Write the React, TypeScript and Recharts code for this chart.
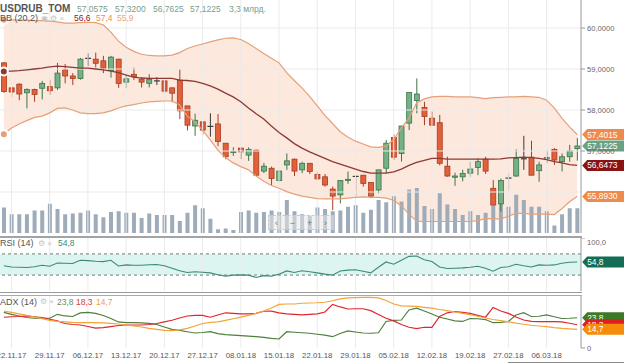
import React from "react";
import {
  ComposedChart,
  Bar,
  Line,
  Area,
  XAxis,
  YAxis,
  ReferenceLine,
  ReferenceArea,
  ReferenceDot,
} from "recharts";

const FONT = "'Liberation Sans', Arial, sans-serif";
const W = 624;
const AXIS_W = 43;

// trading days (MOEX, USDRUB_TOM)
const dates = [
  "21.11.17", "22.11.17", "23.11.17", "24.11.17", "27.11.17", "28.11.17", "29.11.17", "30.11.17", "01.12.17", "04.12.17",
  "05.12.17", "06.12.17", "07.12.17", "08.12.17", "11.12.17", "12.12.17", "13.12.17", "14.12.17", "15.12.17", "18.12.17",
  "19.12.17", "20.12.17", "21.12.17", "22.12.17", "25.12.17", "26.12.17", "27.12.17", "28.12.17", "29.12.17", "03.01.18",
  "04.01.18", "08.01.18", "09.01.18", "10.01.18", "11.01.18", "12.01.18", "15.01.18", "16.01.18", "17.01.18", "18.01.18",
  "19.01.18", "22.01.18", "23.01.18", "24.01.18", "25.01.18", "26.01.18", "29.01.18", "30.01.18", "31.01.18", "01.02.18",
  "02.02.18", "05.02.18", "06.02.18", "07.02.18", "08.02.18", "09.02.18", "12.02.18", "13.02.18", "14.02.18", "15.02.18",
  "16.02.18", "19.02.18", "20.02.18", "21.02.18", "22.02.18", "26.02.18", "27.02.18", "28.02.18", "01.03.18", "02.03.18",
  "05.03.18", "06.03.18", "07.03.18", "09.03.18", "12.03.18", "13.03.18",
];

const tickDates = [
  "22.11.17", "29.11.17", "06.12.17", "13.12.17", "20.12.17", "27.12.17", "08.01.18", "15.01.18",
  "22.01.18", "29.01.18", "05.02.18", "12.02.18", "19.02.18", "27.02.18", "06.03.18",
];

const openP = [
  59.15, 58.54, 58.63, 58.42, 58.5, 58.53, 58.57, 58.54, 58.98, 58.83,
  58.77, 59.27, 59.24, 59.2, 58.96, 59.24, 58.68, 58.87, 58.75, 58.65,
  58.72, 58.71, 58.54, 58.73, 58.1, 57.61, 57.71, 57.61, 57.66, 57.19,
  56.96, 57.07, 56.9, 57.02, 56.51, 56.58, 56.28, 56.66, 56.8, 56.54,
  56.7, 56.43, 56.37, 56.07, 55.93, 56.28, 56.37, 56.41, 56.23, 56.05,
  56.58, 57.33, 56.94, 57.68, 58.23, 58.06, 57.8, 57.69, 56.63, 56.36,
  56.37, 56.46, 56.6, 56.8, 56.09, 55.71, 56.33, 56.39, 56.8, 56.85,
  56.52, 56.82, 57.04, 56.74, 56.86, 57.0575,
];
const highP = [
  59.17, 58.55, 58.65, 58.53, 58.52, 58.71, 58.73, 59.15, 59.12, 58.9,
  59.27, 59.38, 59.4, 59.32, 59.32, 59.25, 58.88, 59.03, 58.8, 58.87,
  58.8, 58.71, 58.55, 58.99, 58.1, 57.91, 57.72, 57.92, 57.9, 57.19,
  57.09, 57.08, 57.09, 57.03, 56.71, 56.62, 56.52, 56.94, 56.82, 56.74,
  56.71, 56.49, 56.44, 56.13, 56.28, 56.5, 56.42, 56.41, 56.23, 56.54,
  57.27, 57.41, 57.61, 58.43, 58.77, 58.2, 57.96, 57.88, 56.86, 56.47,
  56.54, 56.74, 56.82, 56.86, 56.29, 56.33, 56.46, 57.04, 57.37, 57.25,
  56.74, 57.02, 57.07, 56.94, 57.15, 57.32,
];
const lowP = [
  58.42, 58.32, 58.24, 58.04, 58.2, 58.26, 58.37, 58.49, 58.65, 58.61,
  58.74, 59.07, 59.04, 58.9, 58.79, 58.54, 58.53, 58.73, 58.55, 58.55,
  58.61, 58.41, 58.19, 57.78, 57.5, 57.37, 57.39, 57.35, 57.12, 56.8,
  56.88, 56.8, 56.76, 56.39, 56.46, 56.17, 56.26, 56.54, 56.39, 56.46,
  56.44, 56.29, 56.13, 55.56, 55.72, 56.2, 55.89, 56.13, 55.88, 55.97,
  56.46, 56.78, 56.74, 57.51, 57.92, 57.63, 57.63, 56.65, 56.37, 56.15,
  56.26, 56.37, 56.41, 56.44, 55.67, 55.52, 56.03, 56.37, 56.54, 56.41,
  56.25, 56.7, 56.66, 56.5, 56.74, 56.7625,
];
const closeP = [
  58.45, 58.44, 58.39, 58.5, 58.38, 58.65, 58.47, 58.9, 58.83, 58.77,
  59.24, 59.26, 59.14, 59.02, 59.29, 58.65, 58.76, 58.81, 58.68, 58.75,
  58.71, 58.46, 58.41, 57.98, 57.63, 57.75, 57.51, 57.6, 57.23, 56.86,
  56.99, 56.98, 57.04, 56.41, 56.63, 56.33, 56.51, 56.76, 56.51, 56.7,
  56.5, 56.32, 56.17, 55.9, 56.28, 56.31, 56.38, 56.21, 55.9, 56.54,
  57.19, 56.85, 57.61, 58.43, 58.39, 57.84, 57.63, 56.7, 56.39, 56.39,
  56.45, 56.56, 56.74, 56.51, 55.68, 56.28, 56.34, 56.82, 56.81, 56.41,
  56.66, 56.83, 56.78, 56.86, 57.0, 57.1225,
];

// volume, bn RUB
const volume = [
  3.4, 2.5, 2.5, 2.5, 3.0, 3.0, 3.9, 3.2, 2.5, 2.6,
  2.7, 3.0, 2.5, 2.1, 2.8, 2.9, 2.7, 2.7, 2.0, 2.6,
  2.4, 2.4, 2.4, 1.6, 2.7, 3.7, 3.3, 1.9, 0.5, 0.6,
  0.4, 2.8, 3.0, 2.7, 2.8, 3.0, 2.8, 4.4, 2.9, 2.5,
  2.3, 3.4, 3.2, 2.9, 3.0, 3.5, 3.7, 2.7, 3.1, 4.4,
  4.1, 4.9, 4.2, 5.8, 6.0, 3.6, 3.2, 5.3, 3.8, 3.2,
  2.4, 2.9, 2.4, 2.7, 3.6, 4.4, 3.5, 5.1, 4.4, 3.5,
  3.5, 2.9, 1.0, 2.5, 3.3, 3.3,
];

// Bollinger (20,2)
const bbUpper = [
  60.2, 60.2, 60.19, 60.19, 60.18, 60.18, 60.17, 60.15, 60.12, 60.12,
  60.13, 60.14, 60.13, 60.08, 59.9, 59.68, 59.53, 59.43, 59.36, 59.33,
  59.32, 59.32, 59.34, 59.4, 59.5, 59.56, 59.61, 59.66, 59.71, 59.75,
  59.76, 59.72, 59.62, 59.5, 59.38, 59.26, 59.15, 58.91, 58.72, 58.54,
  58.33, 58.1, 57.87, 57.67, 57.47, 57.34, 57.24, 57.17, 57.1, 57.09,
  57.12, 57.28, 57.56, 57.8, 58.17, 58.27, 58.32, 58.33, 58.33, 58.32,
  58.32, 58.32, 58.3, 58.28, 58.3, 58.31, 58.32, 58.32, 58.33, 58.32,
  58.31, 58.24, 58.05, 57.8, 57.59, 57.4015,
];
const bbMid = [
  58.94, 58.95, 58.96, 58.98, 59.0, 59.02, 59.05, 59.07, 59.06, 59.04,
  59.02, 59.02, 59.0, 58.98, 58.95, 58.91, 58.85, 58.8, 58.78, 58.77,
  58.77, 58.77, 58.77, 58.73, 58.72, 58.7, 58.65, 58.59, 58.51, 58.41,
  58.32, 58.2, 58.05, 57.91, 57.78, 57.61, 57.45, 57.32, 57.18, 57.07,
  56.98, 56.9, 56.82, 56.74, 56.68, 56.62, 56.56, 56.5, 56.46, 56.46,
  56.46, 56.49, 56.56, 56.65, 56.72, 56.77, 56.82, 56.82, 56.8, 56.8,
  56.8, 56.8, 56.8, 56.8, 56.8, 56.81, 56.83, 56.84, 56.85, 56.84,
  56.82, 56.79, 56.74, 56.71, 56.67, 56.6473,
];
const bbLower = [
  57.41, 57.56, 57.66, 57.74, 57.82, 57.85, 57.93, 58.04, 58.05, 58.0,
  57.93, 57.91, 57.91, 57.93, 57.98, 58.05, 58.1, 58.13, 58.17, 58.2,
  58.21, 58.22, 58.22, 58.12, 57.85, 57.71, 57.51, 57.27, 57.02, 56.84,
  56.71, 56.62, 56.54, 56.39, 56.26, 56.16, 56.09, 56.01, 55.95, 55.9,
  55.87, 55.84, 55.83, 55.83, 55.83, 55.85, 55.87, 55.88, 55.87, 55.87,
  55.85, 55.8, 55.66, 55.46, 55.29, 55.28, 55.28, 55.28, 55.28, 55.28,
  55.28, 55.28, 55.3, 55.35, 55.35, 55.34, 55.41, 55.48, 55.48, 55.46,
  55.46, 55.46, 55.45, 55.59, 55.76, 55.893,
];

// RSI (14)
const rsi14 = [
  47.7, 45.4, 44.9, 44.3, 45.8, 48.6, 46.7, 52.9, 52.3, 51.8,
  57.9, 57.4, 56.1, 55.5, 57.9, 47.3, 49.2, 48.6, 48.6, 49.5,
  49.9, 47.7, 43.0, 38.3, 35.0, 36.4, 35.5, 34.2, 30.8, 28.0,
  29.9, 30.5, 29.9, 25.6, 29.0, 28.0, 31.8, 37.9, 35.0, 38.3,
  36.4, 34.2, 31.8, 29.9, 37.9, 39.3, 40.2, 37.4, 34.2, 44.9,
  54.8, 50.5, 57.9, 65.4, 66.0, 58.9, 55.5, 45.4, 42.4, 43.0,
  43.6, 44.9, 46.7, 43.0, 37.4, 44.3, 45.8, 50.5, 47.7, 45.4,
  49.2, 48.6, 49.2, 52.3, 54.2, 54.8,
];

// ADX (14): +DI, -DI, ADX
const diPlus = [
  28.0, 26.4, 25.2, 24.0, 23.4, 23.4, 23.4, 26.5, 25.2, 24.8,
  27.6, 28.0, 27.2, 25.6, 23.2, 20.5, 19.9, 19.9, 19.7, 19.4,
  18.5, 16.5, 14.7, 13.8, 12.8, 11.8, 12.2, 12.8, 11.3, 10.6,
  10.2, 9.7, 9.3, 8.9, 8.4, 7.6, 7.1, 12.8, 12.4, 12.0,
  11.6, 10.8, 10.1, 8.9, 11.4, 13.5, 12.6, 11.8, 11.6, 12.0,
  20.9, 21.7, 22.0, 29.9, 31.3, 29.1, 26.8, 24.2, 22.8, 21.3,
  20.9, 23.2, 23.0, 22.4, 19.9, 20.2, 20.9, 26.0, 27.8, 24.8,
  25.0, 26.0, 24.6, 23.2, 23.4, 23.8,
];
const diMinus = [
  24.2, 24.6, 24.8, 25.2, 24.6, 24.0, 22.6, 21.3, 19.3, 18.5,
  18.1, 16.9, 15.7, 16.0, 16.8, 17.7, 18.1, 18.1, 18.1, 18.5,
  19.3, 20.5, 21.8, 23.6, 25.2, 25.7, 25.6, 24.2, 26.0, 27.7,
  27.2, 26.8, 26.8, 27.2, 28.9, 29.0, 27.6, 26.9, 26.5, 26.0,
  26.4, 26.8, 28.3, 34.3, 32.3, 30.7, 30.9, 30.9, 29.4, 26.4,
  23.4, 21.3, 18.5, 16.3, 15.2, 16.3, 16.3, 24.8, 27.7, 28.7,
  28.0, 27.2, 25.7, 24.2, 31.9, 29.1, 27.2, 24.4, 22.0, 20.9,
  20.7, 20.7, 20.7, 20.5, 19.5, 18.3,
];
const adx14 = [
  29.1, 28.0, 26.8, 25.6, 24.4, 23.1, 21.8, 20.9, 20.5, 20.1,
  19.9, 19.9, 19.9, 19.7, 19.3, 18.9, 18.1, 17.3, 16.5, 15.4,
  14.6, 13.8, 13.6, 14.2, 15.5, 17.3, 19.3, 20.1, 20.5, 21.7,
  23.0, 24.3, 25.7, 27.3, 29.1, 31.5, 34.3, 34.6, 34.6, 35.2,
  35.4, 35.6, 36.0, 37.2, 38.6, 39.4, 39.6, 39.8, 39.9, 39.4,
  37.4, 34.6, 33.1, 32.9, 32.7, 32.0, 31.3, 30.3, 29.4, 28.3,
  27.3, 26.2, 25.0, 23.6, 22.4, 21.5, 20.5, 19.5, 18.7, 17.9,
  17.3, 16.8, 16.0, 15.4, 15.0, 14.7,
];

const priceTicks = [57, 58, 59, 60];
const priceGrid = [56, 57, 58, 59, 60];

const data = dates.map((d, i) => ({
  d,
  open: openP[i],
  high: highP[i],
  low: lowP[i],
  close: closeP[i],
  vol: volume[i],
  bbU: bbUpper[i],
  bbM: bbMid[i],
  bbL: bbLower[i],
  rsi: rsi14[i],
  pdi: diPlus[i],
  mdi: diMinus[i],
  adx: adx14[i],
}));

const last = dates.length - 1;
const fmt = (v: number, n: number) => v.toFixed(n).replace(".", ",");

const Candle = (props: any) => {
  const { x, y, width, height, payload } = props;
  if (!payload || height == null) return null;
  const top = Math.min(y, y + height);
  const h = Math.abs(height);
  const span = payload.high - payload.low || 1;
  const toY = (v: number) => top + ((payload.high - v) / span) * h;
  const cx = x + width / 2;
  const up = payload.close >= payload.open;
  const doji = Math.abs(payload.close - payload.open) < 0.015;
  const stroke = doji ? "#3a3a3a" : up ? "#3b744a" : "#a53c22";
  const fill = up ? "#74b184" : "#e2603a";
  const yo = toY(payload.open);
  const yc = toY(payload.close);
  const bt = Math.min(yo, yc);
  const bh = Math.max(Math.abs(yo - yc), 1);
  return (
    <g>
      <line x1={cx} x2={cx} y1={top} y2={top + h} stroke={stroke} strokeWidth={1} />
      {doji ? (
        <line x1={x} x2={x + width} y1={yc} y2={yc} stroke={stroke} strokeWidth={1.2} />
      ) : (
        <rect x={x + 0.5} y={bt} width={width - 1} height={bh} fill={fill} stroke={stroke} strokeWidth={0.8} />
      )}
    </g>
  );
};

// value tag on the right axis
const Badge = ({ cx, cy, color, text }: any) => {
  if (cx == null || cy == null) return null;
  const x0 = cx + 5;
  return (
    <g>
      <path
        d={`M${x0},${cy} L${x0 + 5},${cy - 5.5} L${W},${cy - 5.5} L${W},${cy + 5.5} L${x0 + 5},${cy + 5.5} Z`}
        fill={color}
      />
      <text x={x0 + 5} y={cy + 3} fontSize={8.4} fill="#fff" fontFamily={FONT}>
        {text}
      </text>
    </g>
  );
};

const Txt = ({ x, y, size = 9, color = "#555", bold = false, children }: any) => (
  <div
    style={{
      position: "absolute",
      left: x,
      top: y - size / 2,
      fontSize: size,
      lineHeight: `${size}px`,
      color,
      fontWeight: bold ? "bold" : "normal",
      whiteSpace: "nowrap",
    }}
  >
    {children}
  </div>
);

const gridStroke = "#ebebeb";

export default function App() {
  return (
    <div
      style={{
        position: "absolute",
        left: 0,
        top: 0,
        width: W,
        height: 364,
        background: "#fff",
        fontFamily: FONT,
        overflow: "hidden",
      }}
    >
      {/* price + volume */}
      <div style={{ position: "absolute", left: 0, top: 0 }}>
        <ComposedChart width={W} height={233} data={data} margin={{ top: 0, right: 0, bottom: 0, left: 0 }}>
          <XAxis xAxisId="p" dataKey="d" scale="band" hide />
          <XAxis xAxisId="v" dataKey="d" scale="band" hide />
          <YAxis
            yAxisId="p"
            orientation="right"
            width={AXIS_W}
            domain={[55, 60.683]}
            allowDataOverflow
            ticks={priceTicks}
            tickFormatter={(v: number) => fmt(v, 4)}
            tick={{ fontSize: 7.6, fill: "#666", fontFamily: FONT }}
            tickSize={4}
            tickMargin={2}
            axisLine={{ stroke: "#9a9a9a" }}
            tickLine={{ stroke: "#9a9a9a" }}
          />
          <YAxis yAxisId="v" hide domain={[0, 31.07]} />
          {priceGrid.map((v) => (
            <ReferenceLine key={"h" + v} xAxisId="p" yAxisId="p" y={v} stroke={gridStroke} />
          ))}
          {tickDates.map((t) => (
            <ReferenceLine key={"v" + t} xAxisId="p" yAxisId="p" x={t} stroke={gridStroke} />
          ))}
          <Area
            xAxisId="p"
            yAxisId="p"
            dataKey={(r: any) => [r.bbL, r.bbU]}
            stroke="none"
            fill="#f8cdb4"
            fillOpacity={0.45}
            isAnimationActive={false}
          />
          <Bar xAxisId="v" yAxisId="v" dataKey="vol" barSize={4} fill="#9eabb8" isAnimationActive={false} />
          <Line xAxisId="p" yAxisId="p" dataKey="bbU" stroke="#e5a07a" strokeWidth={1.2} dot={false} isAnimationActive={false} />
          <Line xAxisId="p" yAxisId="p" dataKey="bbL" stroke="#e5a07a" strokeWidth={1.2} dot={false} isAnimationActive={false} />
          <Line xAxisId="p" yAxisId="p" dataKey="bbM" stroke="#8c3a33" strokeWidth={1.3} dot={false} isAnimationActive={false} />
          <Bar
            xAxisId="p"
            yAxisId="p"
            dataKey={(r: any) => [r.low, r.high]}
            barSize={6}
            shape={<Candle />}
            isAnimationActive={false}
          />
          <ReferenceDot xAxisId="p" yAxisId="p" x={dates[last]} y={bbUpper[last]} r={0}
            shape={(p: any) => <Badge cx={p.cx} cy={p.cy} color="#ee8a4c" text={fmt(bbUpper[last], 4)} />} />
          <ReferenceDot xAxisId="p" yAxisId="p" x={dates[last]} y={closeP[last]} r={0}
            shape={(p: any) => <Badge cx={p.cx} cy={p.cy} color="#6aa182" text={fmt(closeP[last], 4)} />} />
          <ReferenceDot xAxisId="p" yAxisId="p" x={dates[last]} y={bbMid[last]} r={0}
            shape={(p: any) => <Badge cx={p.cx} cy={p.cy} color="#8a1212" text={fmt(bbMid[last], 4)} />} />
          <ReferenceDot xAxisId="p" yAxisId="p" x={dates[last]} y={bbLower[last]} r={0}
            shape={(p: any) => <Badge cx={p.cx} cy={p.cy} color="#ee8a4c" text={fmt(bbLower[last], 4)} />} />
        </ComposedChart>
      </div>

      {/* RSI */}
      <div style={{ position: "absolute", left: 0, top: 238 }}>
        <ComposedChart width={W} height={53} data={data} margin={{ top: 0, right: 0, bottom: 0, left: 0 }}>
          <XAxis dataKey="d" scale="band" hide />
          <YAxis
            orientation="right"
            width={AXIS_W}
            domain={[0, 100]}
            ticks={[0, 100]}
            tickFormatter={(v: number) => (v === 100 ? "100,0" : "0")}
            tick={{ fontSize: 7.6, fill: "#666", fontFamily: FONT }}
            tickSize={4}
            tickMargin={2}
            axisLine={{ stroke: "#9a9a9a" }}
            tickLine={{ stroke: "#9a9a9a" }}
          />
          {tickDates.map((t) => (
            <ReferenceLine key={"r" + t} x={t} stroke={gridStroke} />
          ))}
          <ReferenceArea y1={30} y2={70} fill="#dcf5f1" fillOpacity={1} stroke="none" />
          <ReferenceLine y={70} stroke="#777" strokeDasharray="3 3" />
          <ReferenceLine y={30} stroke="#777" strokeDasharray="3 3" />
          <Line dataKey="rsi" stroke="#3e8a74" strokeWidth={1.1} dot={false} isAnimationActive={false} />
          <ReferenceDot x={dates[last]} y={rsi14[last]} r={0}
            shape={(p: any) => <Badge cx={p.cx} cy={p.cy} color="#146e56" text={fmt(rsi14[last], 1)} />} />
        </ComposedChart>
      </div>

      {/* ADX */}
      <div style={{ position: "absolute", left: 0, top: 295 }}>
        <ComposedChart width={W} height={69} data={data} margin={{ top: 0, right: 0, bottom: 0, left: 0 }}>
          <XAxis
            dataKey="d"
            scale="band"
            ticks={tickDates}
            interval={0}
            height={16}
            axisLine={false}
            tickLine={false}
            tickSize={0}
            tickMargin={4}
            tick={{ fontSize: 7.8, fill: "#555", fontFamily: FONT }}
          />
          <YAxis
            orientation="right"
            width={AXIS_W}
            domain={[0, 41.7]}
            ticks={[0]}
            tickFormatter={() => "0"}
            tick={{ fontSize: 7.6, fill: "#666", fontFamily: FONT }}
            tickSize={4}
            tickMargin={2}
            axisLine={{ stroke: "#9a9a9a" }}
            tickLine={{ stroke: "#9a9a9a" }}
          />
          {tickDates.map((t) => (
            <ReferenceLine key={"a" + t} x={t} stroke={gridStroke} />
          ))}
          <Line dataKey="pdi" stroke="#4f7f3c" strokeWidth={1.2} dot={false} isAnimationActive={false} />
          <Line dataKey="mdi" stroke="#e0262e" strokeWidth={1.2} dot={false} isAnimationActive={false} />
          <Line dataKey="adx" stroke="#f2a43a" strokeWidth={1.2} dot={false} isAnimationActive={false} />
          <ReferenceDot x={dates[last]} y={diPlus[last]} r={0}
            shape={(p: any) => <Badge cx={p.cx} cy={p.cy} color="#3d7a26" text={fmt(diPlus[last], 1)} />} />
          <ReferenceDot x={dates[last]} y={diMinus[last]} r={0}
            shape={(p: any) => <Badge cx={p.cx} cy={p.cy} color="#e01e1e" text={fmt(diMinus[last], 1)} />} />
          <ReferenceDot x={dates[last]} y={adx14[last]} r={0}
            shape={(p: any) => <Badge cx={p.cx} cy={p.cy} color="#f58c0a" text={fmt(adx14[last], 1)} />} />
        </ComposedChart>
      </div>

      {/* panel separators */}
      <div style={{ position: "absolute", left: 0, top: 236, width: 582, height: 2, background: "#a3a3a3" }} />
      <div style={{ position: "absolute", left: 0, top: 292, width: 582, height: 1, background: "#999" }} />
      <div style={{ position: "absolute", left: 0, top: 295, width: 582, height: 1, background: "#aaa" }} />
      <div style={{ position: "absolute", left: 508, top: 362, width: 116, height: 1, background: "#8a8a8a" }} />

      {/* zoom navigator */}
      <div
        style={{
          position: "absolute",
          left: 268,
          top: 215,
          width: 64,
          height: 13,
          border: "1px dashed #c9c9c9",
          background: "rgba(232,232,232,0.55)",
          display: "flex",
          justifyContent: "space-around",
          alignItems: "center",
          fontSize: 9,
          color: "#777",
        }}
      >
        <span>‹</span>
        <span>−</span>
        <span>+</span>
        <span>›</span>
      </div>

      {/* legends */}
      <Txt x={0} y={9} size={10} bold color="#555">USDRUB_TOM</Txt>
      <Txt x={77} y={9} size={8.5} color="#76a08d">{fmt(openP[last], 4)}</Txt>
      <Txt x={115} y={9} size={8.5} color="#76a08d">{fmt(highP[last], 4)}</Txt>
      <Txt x={153} y={9} size={8.5} color="#76a08d">{fmt(lowP[last], 4)}</Txt>
      <Txt x={190} y={9} size={8.5} color="#76a08d">{fmt(closeP[last], 4)}</Txt>
      <Txt x={229} y={9} size={8.5} color="#76a08d">{fmt(volume[last], 1)} млрд.</Txt>

      <Txt x={0} y={18.5} size={9} color="#555">BB (20,2)</Txt>
      <Txt x={41} y={18.5} size={8} color="#c4c4c4">◉ ⚙ ×</Txt>
      <Txt x={74} y={18.5} size={8.5} color="#8b1a1a">{fmt(bbMid[last], 1)}</Txt>
      <Txt x={96} y={18.5} size={8.5} color="#e8914c">{fmt(bbUpper[last], 1)}</Txt>
      <Txt x={117} y={18.5} size={8.5} color="#eaa57a">{fmt(bbLower[last], 1)}</Txt>

      <Txt x={0} y={243.5} size={9} color="#555">RSI (14)</Txt>
      <Txt x={38} y={243.5} size={8} color="#c4c4c4">⚙ ×</Txt>
      <Txt x={58} y={243.5} size={8.5} color="#3a8c72">{fmt(rsi14[last], 1)}</Txt>

      <Txt x={0} y={302} size={9} color="#555">ADX (14)</Txt>
      <Txt x={40} y={302} size={8} color="#c4c4c4">⚙ ×</Txt>
      <Txt x={57} y={302} size={8.5} color="#6d8d5c">{fmt(diPlus[last], 1)}</Txt>
      <Txt x={76} y={302} size={8.5} color="#e03838">{fmt(diMinus[last], 1)}</Txt>
      <Txt x={96} y={302} size={8.5} color="#f0a040">{fmt(adx14[last], 1)}</Txt>
    </div>
  );
}
